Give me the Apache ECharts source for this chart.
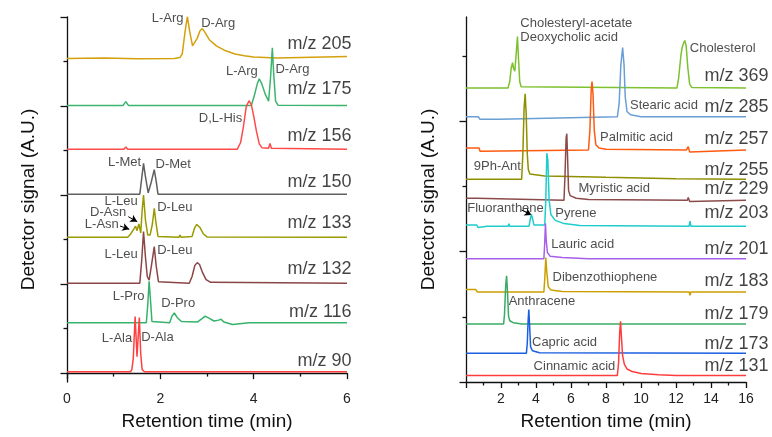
<!DOCTYPE html>
<html>
<head>
<meta charset="utf-8">
<script src="https://cdn.jsdelivr.net/npm/echarts@6/dist/echarts.min.js"></script>
<style>html,body{margin:0;padding:0;background:#fff}#c{width:772px;height:437px}</style>
</head>
<body>
<div id="c"></div>
<script>
// ---------- DATA (left panel: amino acids, time in min, signal above own baseline) ----------
const leftNames = ['m/z 205','m/z 175','m/z 156','m/z 150','m/z 133','m/z 132','m/z 116','m/z 90'];
const leftOffsets = [7.07, 6.01, 5.03, 4.02, 3.05, 2.02, 1.13, 0.03];
const mz205 = [[0,0],[0.8,0.01],[1.5,-0.01],[2.3,0],[2.42,0.02],[2.47,0.1],[2.53,0.6],[2.58,0.94],[2.63,0.6],[2.69,0.28],[2.73,0.26],[2.79,0.45],[2.85,0.62],[2.9,0.67],[2.96,0.58],[3.05,0.42],[3.2,0.28],[3.4,0.17],[3.6,0.1],[3.8,0.06],[4.0,0.03],[4.5,0.01],[5,0.02],[6,0.04]];
const mz175 = [[0,0],[1.2,0],[1.26,0.09],[1.32,0],[3.95,0],[4.02,0.25],[4.08,0.5],[4.12,0.6],[4.17,0.5],[4.25,0.25],[4.32,0.1],[4.36,0.6],[4.40,1.3],[4.43,0.7],[4.47,0.1],[4.52,0.01],[6,0]];
const mz156 = [[0,0],[1.22,0],[1.26,0.05],[1.3,0],[3.65,0],[3.72,0.15],[3.78,0.5],[3.84,0.95],[3.9,1.09],[3.95,1.0],[4.0,0.75],[4.06,0.4],[4.12,0.12],[4.18,0.03],[4.32,0.02],[4.35,0.13],[4.38,0.02],[6,0]];
const mz150 = [[0,0],[1.56,0],[1.6,0.35],[1.64,0.69],[1.68,0.4],[1.74,0.03],[1.8,0.25],[1.87,0.55],[1.91,0.3],[1.95,0],[6,0]];
const mz133 = [[0,0],[1.3,0],[1.36,0.07],[1.4,0.03],[1.44,0.2],[1.47,0.25],[1.5,0.15],[1.54,0.3],[1.58,0.1],[1.61,0.6],[1.64,0.95],[1.68,0.4],[1.73,0.05],[1.78,0.05],[1.83,0.3],[1.87,0.65],[1.91,0.3],[1.95,0.02],[2.4,0],[2.42,0.05],[2.45,0],[2.68,0.02],[2.73,0.2],[2.78,0.29],[2.85,0.22],[2.92,0.08],[3.0,0.01],[6,0]];
const mz132 = [[0,0],[1.56,0],[1.6,0.5],[1.64,1.16],[1.68,0.6],[1.72,0.15],[1.76,0.07],[1.81,0.4],[1.87,0.82],[1.91,0.4],[1.96,0.03],[2.62,0],[2.68,0.15],[2.74,0.4],[2.79,0.46],[2.84,0.42],[2.9,0.25],[2.98,0.08],[3.08,0.02],[6,0]];
const mz116 = [[0,0],[1.7,0],[1.73,0.4],[1.76,0.93],[1.79,0.5],[1.82,0.03],[2.2,0],[2.25,0.15],[2.3,0.22],[2.36,0.12],[2.45,0.03],[2.8,0.02],[2.9,0.1],[2.96,0.15],[3.05,0.1],[3.15,0.04],[3.25,0.06],[3.3,0.08],[3.36,0.02],[3.55,-0.04],[3.7,-0.02],[3.9,0],[6,0]];
const mz90 = [[0,0],[1.36,0],[1.39,0.05],[1.42,0.3],[1.46,1.24],[1.5,0.34],[1.53,0.34],[1.55,1.22],[1.58,0.4],[1.61,0.05],[1.66,0],[6,0]];
const leftData = [mz205, mz175, mz156, mz150, mz133, mz132, mz116, mz90];

// ---------- DATA (right panel) ----------
const rightNames = ['m/z 369','m/z 285','m/z 257','m/z 255','m/z 229','m/z 203','m/z 201','m/z 183','m/z 179','m/z 173','m/z 131'];
const rightOffsets = [4.51, 4.07, 3.56, 3.11, 2.79, 2.39, 1.89, 1.38, 0.89, 0.44, 0.10];
const r369 = [[0,0],[2.4,0],[2.5,0.1],[2.58,0.3],[2.66,0.39],[2.72,0.3],[2.79,0.26],[2.86,0.5],[2.94,0.79],[3.0,0.45],[3.07,0.1],[3.15,0.02],[12.05,0],[12.15,0.15],[12.28,0.5],[12.35,0.62],[12.42,0.68],[12.5,0.73],[12.58,0.65],[12.68,0.3],[12.78,0.06],[12.9,0.01],[16,0]];
const r285 = [[0,0],[0.7,0],[0.8,-0.04],[1.9,-0.04],[2.0,-0.01],[8.65,0],[8.75,0.2],[8.85,0.8],[8.95,1.06],[9.03,0.8],[9.1,0.3],[9.2,0.08],[9.4,0.03],[10,0],[16,0]];
const r257 = [[0,0.03],[0.75,0.03],[0.8,-0.02],[7.0,0],[7.08,0.3],[7.15,0.9],[7.2,1.05],[7.26,0.85],[7.33,0.3],[7.42,0.08],[7.6,0.03],[8,0.01],[12.6,0],[12.7,0.05],[12.78,-0.03],[12.85,0],[16,0]];
const r255 = [[0,0],[3.18,0],[3.25,0.4],[3.32,1.1],[3.38,1.31],[3.44,1.0],[3.5,0.4],[3.56,0.15],[3.65,0.08],[4.5,0.05],[8,0.03],[12,0.01],[16,0]];
const r229 = [[0,0.03],[0.6,0.03],[0.65,0],[5.6,0],[5.66,0.4],[5.72,0.95],[5.76,1.02],[5.8,0.7],[5.86,0.15],[5.95,0.07],[6.3,0.03],[7,0.01],[12.65,0],[12.7,0.04],[12.78,-0.02],[12.85,0],[16,0]];
const r203 = [[0,0.02],[0.6,0.02],[0.7,-0.02],[1.2,0],[2.4,0],[2.45,0.04],[2.5,0],[3.6,0],[3.67,0.1],[3.74,0.18],[3.8,0.12],[3.88,0.02],[4.5,0.02],[4.56,0.4],[4.62,1.12],[4.68,1.0],[4.75,0.4],[4.85,0.18],[5.1,0.09],[5.6,0.04],[6.5,0.01],[12.75,0],[12.8,0.08],[12.85,0],[16,0]];
const r201 = [[0,0],[4.45,0],[4.5,0.25],[4.54,0.54],[4.58,0.3],[4.65,0.1],[4.8,0.04],[5.5,0.02],[7,0],[16,0]];
const r183 = [[0,0.04],[0.55,0.04],[0.65,0],[4.45,0],[4.5,0.2],[4.56,0.53],[4.62,0.3],[4.7,0.08],[4.85,0.03],[5.5,0.01],[12.75,0],[12.8,-0.05],[12.85,0],[16,0]];
const r179 = [[0,0],[2.15,0],[2.2,0.15],[2.27,0.6],[2.32,0.74],[2.37,0.5],[2.43,0.12],[2.5,0.05],[2.7,0.02],[3.2,0],[16,0]];
const r173 = [[0,0],[3.45,0],[3.5,0.15],[3.55,0.5],[3.59,0.67],[3.63,0.45],[3.69,0.1],[3.8,0.04],[4.2,0.01],[16,0]];
const r131 = [[0,0],[8.65,0],[8.72,0.2],[8.78,0.65],[8.83,0.83],[8.88,0.6],[8.95,0.3],[9.05,0.17],[9.2,0.1],[9.5,0.06],[10,0.03],[11,0.01],[12,0],[16,0]];
const rightData = [r369, r285, r257, r255, r229, r203, r201, r183, r179, r173, r131];

// ---------- annotations (text, time, signal, anchor side) ----------
const leftNotes = [
  ['L-Arg',2.507,7.955,'right'],['D-Arg',2.886,7.836,'left'],
  ['L-Arg',4.099,6.771,'right'],['D-Arg',4.478,6.81,'left'],
  ['D,L-His',3.765,5.702,'right'],
  ['L-Met',1.601,4.713,'right'],['D-Met',1.907,4.675,'left'],
  ['L-Leu',1.528,3.851,'right'],['D-Leu',1.943,3.702,'left'],
  ['D-Asn',1.279,3.59,'right'],['L-Asn',1.121,3.327,'right'],
  ['L-Leu',1.528,2.653,'right'],['D-Leu',1.943,2.743,'left'],
  ['L-Pro',1.671,1.703,'right'],['D-Pro',2.029,1.552,'left'],
  ['L-Ala',1.408,0.759,'right'],['D-Ala',1.601,0.795,'left']
];
const leftArrows = [[[1.313,3.514],[1.506,3.402]],[[1.136,3.305],[1.335,3.231]]];
const leftMzY = [7.39, 6.36, 5.31, 4.28, 3.37, 2.32, 1.36, 0.27];
const rightNotes = [
  ['Cholesteryl-acetate',3.134,5.488,'left'],['Deoxycholic acid',3.134,5.273,'left'],
  ['Cholesterol',12.82,5.104,'left'],['Stearic acid',9.402,4.239,'left'],
  ['Palmitic acid',7.692,3.748,'left'],['9Ph-Ant',0.473,3.303,'left'],
  ['Myristic acid',6.456,2.956,'left'],['Fluoranthene',0.097,2.65,'left'],
  ['Pyrene',5.128,2.578,'left'],['Lauric acid',4.9,2.102,'left'],
  ['Dibenzothiophene',4.974,1.591,'left'],['Anthracene',2.467,1.223,'left'],
  ['Capric acid',3.8,0.603,'left'],['Cinnamic acid',3.892,0.235,'left']
];
const rightArrows = [[[3.174,2.639],[3.744,2.562]]];
const rightMzY = [4.68, 4.21, 3.72, 3.25, 2.95, 2.58, 2.04, 1.54, 1.03, 0.58, 0.23];
const xTicksLeft = [0,2,4,6];
const xTicksRight = [2,4,6,8,10,12,14,16];

// ---------- styles ----------
const leftColors = ['#d4a10d','#3cb46e','#ff4a4a','#606060','#9a9a00','#8a4646','#36b36a','#ff4040'];
const rightColors = ['#7cc22e','#6a9ed6','#ff5a0e','#8f8f00','#8b4b4b','#1fcccc','#a75ee8','#cc9f00','#3aaa66','#1a5fe0','#ff3d3d'];
const FONT = 'Liberation Sans, Arial, sans-serif';

const chart = echarts.init(document.getElementById('c'), null, {renderer:'canvas'});
const series = [];
leftData.forEach((pts,i)=>{
  series.push({type:'line', name:leftNames[i], xAxisIndex:0, yAxisIndex:0, showSymbol:false, symbol:'none', silent:true,
    data: pts.map(p=>[p[0], p[1]+leftOffsets[i]]), lineStyle:{color:leftColors[i], width:1.5}, itemStyle:{color:leftColors[i]}, z:2+i});
});
rightData.forEach((pts,i)=>{
  series.push({type:'line', name:rightNames[i], xAxisIndex:1, yAxisIndex:2, showSymbol:false, symbol:'none', silent:true,
    data: pts.map(p=>[p[0], p[1]+rightOffsets[i]]), lineStyle:{color:rightColors[i], width:1.5}, itemStyle:{color:rightColors[i]}, z:2+i});
});
function noteItems(notes){
  return notes.map(n=>({value:[n[1],n[2]], name:n[0], label:{align:n[3]}}));
}
function mzItems(names, ys, x){
  return names.map((n,i)=>({value:[x, ys[i]], name:n, label:{align:'right', fontSize:18, color:'#111'}}));
}
function arrowLines(arr){
  return arr.map(a=>[{coord:a[0], symbol:'none'},{coord:a[1], symbol:'arrow'}]);
}
const noteLabel = {show:true, position:[0,0], verticalAlign:'middle', formatter:'{b}', fontSize:13, color:'#222', fontFamily:FONT};
series.push({type:'scatter', xAxisIndex:0, yAxisIndex:0, symbolSize:1, itemStyle:{color:'rgba(0,0,0,0)'}, clip:false, silent:true, z:20,
  label:noteLabel, data: noteItems(leftNotes).concat(mzItems(leftNames, leftMzY, 6.11)),
  markLine:{silent:true, symbolSize:[6,7], label:{show:false}, lineStyle:{color:'#000', width:1, type:'solid'}, animation:false, data: arrowLines(leftArrows)}});
series.push({type:'scatter', xAxisIndex:1, yAxisIndex:2, symbolSize:1, itemStyle:{color:'rgba(0,0,0,0)'}, clip:false, silent:true, z:20,
  label:noteLabel, data: noteItems(rightNotes).concat(mzItems(rightNames, rightMzY, 17.32)),
  markLine:{silent:true, symbolSize:[6,7], label:{show:false}, lineStyle:{color:'#000', width:1, type:'solid'}, animation:false, data: arrowLines(rightArrows)}});

const axisLine = {show:true, lineStyle:{color:'#111', width:1.3}};
function xAxis(grid, max, ticks){
  return {type:'value', gridIndex:grid, min:0, max:max, interval:2, axisLine:axisLine,
    axisTick:{show:true, length:6, lineStyle:{color:'#111', width:1.3}},
    minorTick:{show:true, splitNumber:2, length:3.5, lineStyle:{color:'#111', width:1.3}},
    axisLabel:{show:true, customValues:ticks, fontSize:14, color:'#222', margin:10, fontFamily:FONT},
    splitLine:{show:false}, minorSplitLine:{show:false},
    name:'Retention time (min)', nameLocation:'middle', nameGap:30, nameTextStyle:{fontSize:19, color:'#111', fontFamily:FONT}};
}
function yMain(grid, min, max, ticks){
  return {type:'value', gridIndex:grid, position:'left', min:min, max:max, axisLine:axisLine,
    axisTick:{show:true, customValues:ticks, length:6.5, lineStyle:{color:'#111', width:1.3}},
    axisLabel:{show:false}, splitLine:{show:false},
    name:'Detector signal (A.U.)', nameLocation:'middle', nameGap:grid===0?29:28, nameTextStyle:{fontSize:19, color:'#111', fontFamily:FONT}};
}
function yMinor(grid, min, max, ticks){
  return {type:'value', gridIndex:grid, position:'left', offset:0, min:min, max:max, axisLine:{show:false},
    axisTick:{show:true, customValues:ticks, length:3.5, lineStyle:{color:'#111', width:1.3}},
    axisLabel:{show:false}, splitLine:{show:false}};
}

chart.setOption({
  animation:false,
  backgroundColor:'#fff',
  textStyle:{fontFamily:FONT},
  grid:[{left:67, top:17, width:280, height:365}, {left:466, top:17, width:280, height:365}],
  xAxis:[xAxis(0, 6, xTicksLeft), xAxis(1, 16, xTicksRight)],
  yAxis:[yMain(0, -0.2, 8, [0,2,4,6,8]), yMinor(0, -0.2, 8, [1,3,5,7]),
         yMain(1, 0, 5.6, [0,2,4]), yMinor(1, 0, 5.6, [1,3,5])],
  series:series
});
</script>
</body>
</html>
